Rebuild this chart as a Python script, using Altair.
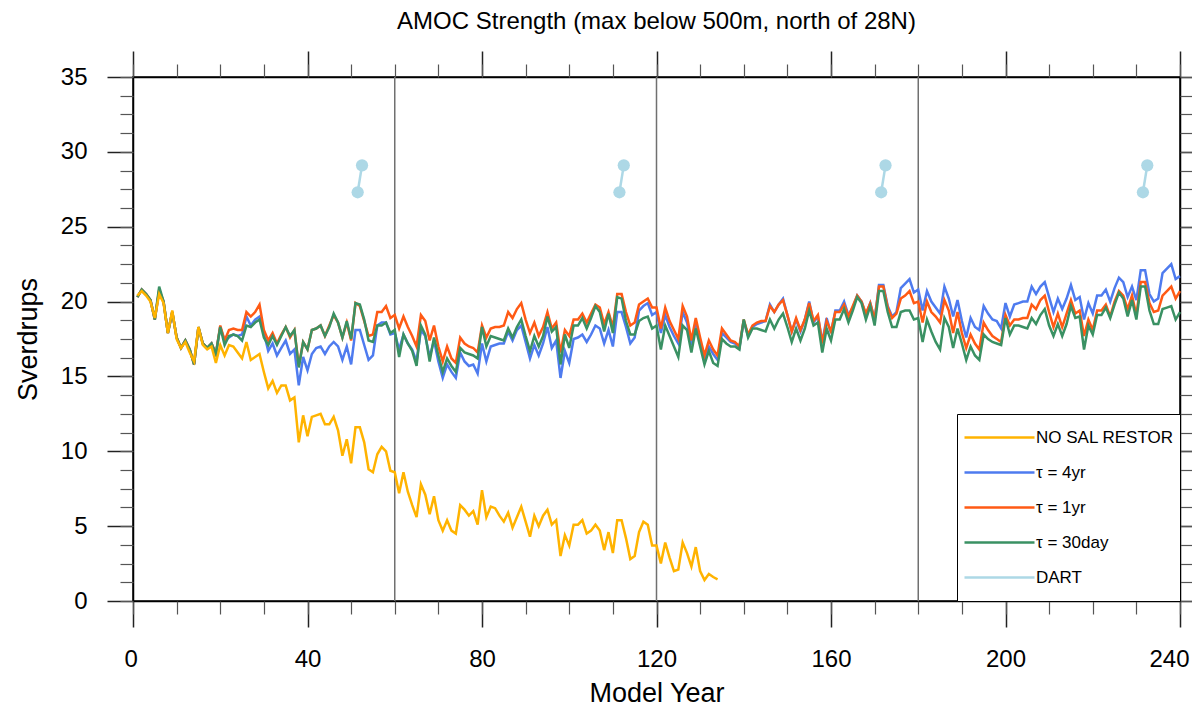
import altair as alt
import pandas as pd

FONT = "Liberation Sans"

# ---------------- data ----------------
years = list(range(1, 241))

tau_4yr = [
    20.3, 20.8, 20.5, 20.1, 18.8, 20.7, 20.0, 17.9, 19.3, 17.6,
    16.9, 17.4, 16.8, 15.8, 18.3, 17.2, 16.9, 17.2, 16.5, 18.3,
    17.4, 17.6, 17.8, 17.7, 17.8, 19.0, 18.4, 18.8, 19.0, 17.9,
    16.7, 17.2, 16.4, 16.9, 17.4, 16.5, 16.8, 14.4, 16.3, 15.4,
    16.5, 16.9, 17.0, 16.5, 17.0, 17.3, 17.0, 16.1, 17.0, 15.8,
    18.1, 18.1, 17.1, 16.1, 16.4, 18.4, 18.6, 18.6, 17.8, 17.9,
    16.8, 17.8, 17.2, 16.8, 16.0, 18.1, 17.7, 16.3, 17.4, 16.0,
    14.9, 15.8, 15.3, 14.9, 16.6, 16.0, 15.7, 15.8, 15.2, 17.2,
    16.0, 17.0, 17.1, 17.2, 17.2, 18.0, 17.4, 18.1, 18.4, 17.3,
    16.2, 17.1, 16.4, 17.2, 18.3, 16.9, 17.4, 14.9, 16.7, 15.9,
    17.5, 17.6, 17.8, 17.3, 17.8, 18.4, 18.2, 17.2, 18.1, 17.0,
    19.3, 19.3, 18.3, 17.2, 17.6, 19.4, 19.7, 19.9, 19.1, 19.3,
    17.9, 19.1, 18.3, 17.7, 17.2, 19.3, 18.6, 17.1, 18.5, 17.2,
    16.1, 17.0, 16.5, 16.1, 17.9, 17.6, 17.3, 17.2, 16.9, 18.7,
    17.7, 18.3, 18.5, 18.6, 18.7, 19.8, 19.3, 19.8, 20.2, 19.1,
    18.0, 18.8, 18.0, 18.8, 20.0, 18.6, 19.0, 17.3, 18.9, 17.9,
    19.4, 19.4, 20.0, 19.1, 19.6, 20.4, 20.0, 19.1, 19.9, 18.8,
    21.1, 21.1, 19.7, 19.0, 19.3, 20.9, 21.2, 21.5, 20.6, 20.8,
    19.4, 20.7, 20.0, 19.6, 19.2, 21.0, 20.2, 19.0, 20.1, 18.7,
    17.6, 18.9, 18.3, 18.1, 19.7, 19.2, 18.8, 18.7, 18.2, 19.9,
    19.0, 19.8, 19.9, 20.0, 20.0, 21.0, 20.5, 21.0, 21.3, 20.3,
    19.3, 20.2, 19.5, 20.2, 21.1, 20.1, 20.3, 18.8, 19.9, 19.2,
    20.4, 20.4, 20.8, 20.0, 20.9, 21.6, 21.3, 20.3, 21.0, 20.1,
    22.1, 22.1, 20.5, 20.0, 20.2, 21.9, 22.2, 22.5, 21.5, 21.7,
]

tau_1yr = [
    20.3, 20.8, 20.5, 20.1, 18.8, 20.8, 20.0, 17.9, 19.3, 17.6,
    16.9, 17.4, 16.8, 15.8, 18.3, 17.2, 16.9, 17.2, 16.5, 18.4,
    17.4, 18.1, 18.2, 18.1, 18.1, 19.3, 19.0, 19.3, 19.8, 18.1,
    17.4, 17.9, 17.2, 17.8, 18.3, 17.6, 18.1, 15.7, 17.3, 16.8,
    18.1, 18.2, 18.4, 17.7, 18.4, 19.1, 18.6, 17.6, 18.6, 17.4,
    19.9, 19.7, 18.7, 17.7, 17.8, 19.3, 19.3, 19.7, 18.9, 19.1,
    18.2, 19.0, 18.3, 17.7, 17.0, 19.1, 18.7, 17.4, 18.4, 17.0,
    16.0, 17.0, 16.2, 15.9, 17.6, 17.2, 17.0, 16.9, 16.6, 18.4,
    17.6, 18.2, 18.3, 18.3, 18.4, 19.3, 18.9, 19.5, 19.9, 18.8,
    17.9, 18.6, 17.7, 18.3, 19.3, 18.2, 18.6, 16.6, 18.1, 17.7,
    18.8, 18.8, 19.2, 18.6, 19.2, 19.8, 19.6, 18.5, 19.3, 18.3,
    20.5, 20.5, 19.3, 18.4, 18.6, 19.8, 20.0, 20.2, 19.6, 19.6,
    18.2, 19.6, 18.7, 18.1, 17.5, 19.7, 19.0, 17.4, 18.9, 17.6,
    16.4, 17.4, 16.8, 16.4, 18.2, 17.8, 17.4, 17.3, 17.0, 18.8,
    17.8, 18.4, 18.6, 18.7, 18.7, 19.7, 19.3, 19.8, 20.1, 19.1,
    18.0, 18.9, 18.1, 18.8, 19.9, 18.7, 19.1, 17.2, 18.7, 18.0,
    19.3, 19.3, 19.8, 19.0, 19.7, 20.4, 20.0, 19.2, 19.9, 18.8,
    21.0, 21.0, 19.6, 18.9, 19.2, 20.2, 20.4, 20.7, 19.9, 20.0,
    18.6, 20.0, 19.3, 19.0, 18.6, 20.1, 19.4, 17.9, 19.3, 17.9,
    16.9, 17.8, 17.2, 16.8, 18.6, 18.1, 17.7, 17.5, 17.3, 19.1,
    18.4, 18.8, 18.8, 18.9, 18.9, 19.8, 19.5, 20.1, 20.4, 19.3,
    18.3, 19.2, 18.3, 19.2, 20.1, 19.2, 19.4, 17.7, 18.8, 18.1,
    19.4, 19.4, 19.8, 19.0, 20.0, 20.7, 20.4, 19.5, 20.4, 19.1,
    21.3, 21.3, 19.9, 19.3, 19.4, 20.4, 20.7, 21.0, 20.2, 20.7,
]

tau_30day = [
    20.3, 20.8, 20.5, 20.1, 18.8, 21.0, 20.0, 17.9, 19.3, 17.6,
    16.9, 17.4, 16.8, 15.8, 18.3, 17.2, 16.9, 17.2, 16.5, 18.3,
    17.1, 17.7, 17.8, 17.7, 17.4, 18.4, 18.3, 18.6, 18.8, 17.6,
    17.1, 17.7, 17.1, 17.7, 18.3, 17.7, 18.1, 15.6, 17.3, 16.8,
    18.1, 18.2, 18.4, 17.7, 18.3, 19.2, 18.6, 17.6, 18.7, 17.5,
    19.9, 19.8, 18.8, 17.4, 17.3, 18.4, 18.4, 18.6, 17.9, 18.1,
    16.3, 17.8, 17.2, 16.7, 15.7, 18.4, 17.8, 16.0, 17.6, 16.4,
    15.3, 16.2, 15.7, 15.3, 16.9, 16.6, 16.5, 16.4, 16.2, 18.3,
    17.0, 17.7, 17.6, 17.5, 17.4, 18.2, 17.6, 18.3, 18.8, 17.7,
    16.7, 17.7, 17.0, 17.7, 19.0, 18.0, 18.3, 15.8, 17.8, 16.9,
    18.4, 18.4, 18.9, 18.2, 18.9, 19.7, 19.3, 18.0, 19.2, 17.9,
    20.3, 20.2, 18.7, 17.8, 17.8, 18.7, 18.9, 19.0, 18.2, 18.4,
    16.8, 18.4, 17.7, 17.0, 16.3, 18.4, 18.1, 16.6, 18.2, 17.0,
    15.8, 16.7, 15.9, 15.7, 17.5, 17.2, 17.0, 17.0, 16.8, 18.8,
    17.6, 18.2, 18.2, 18.1, 18.0, 18.8, 18.2, 18.8, 19.2, 18.3,
    17.3, 18.2, 17.4, 18.2, 19.4, 18.4, 18.6, 16.6, 18.2, 17.4,
    18.8, 18.8, 19.5, 18.6, 19.4, 20.3, 19.9, 18.8, 19.7, 18.4,
    20.7, 20.7, 19.3, 18.3, 18.3, 19.3, 19.4, 19.4, 18.8, 18.9,
    17.3, 18.8, 18.0, 17.3, 16.8, 18.9, 18.3, 16.9, 18.2, 17.2,
    16.1, 17.0, 16.4, 16.1, 17.8, 17.5, 17.3, 17.2, 17.1, 18.9,
    17.8, 18.4, 18.4, 18.3, 18.2, 18.9, 18.5, 19.1, 19.5, 18.4,
    17.7, 18.5, 17.7, 18.5, 19.7, 18.9, 19.0, 16.8, 18.4, 17.8,
    19.1, 19.1, 19.6, 18.9, 19.8, 20.6, 20.2, 19.0, 20.1, 18.8,
    21.0, 21.0, 19.4, 18.5, 18.5, 19.5, 19.6, 19.7, 18.8, 19.3,
]

no_sal_years = list(range(1, 135))
no_sal_restor = [
    20.4, 20.7, 20.4, 20.0, 18.9, 20.5, 19.9, 17.9, 19.4, 17.5,
    16.9, 17.3, 16.6, 16.0, 18.3, 17.1, 16.8, 17.0, 15.9, 17.1,
    16.4, 17.1, 17.0, 16.6, 16.2, 17.3, 16.1, 16.3, 16.5, 15.3,
    14.2, 14.7, 13.9, 14.4, 14.4, 13.4, 13.6, 10.6, 12.4, 11.0,
    12.3, 12.4, 12.5, 11.8, 11.8, 12.3, 11.4, 9.7, 10.8, 9.2,
    11.6, 11.6, 10.6, 8.8, 8.6, 9.8, 10.3, 10.0, 8.7, 8.6,
    7.2, 8.6, 7.3, 6.4, 5.6, 7.8, 7.1, 5.8, 7.0, 5.4,
    4.7, 5.4, 4.7, 4.5, 6.4, 6.1, 5.7, 6.0, 5.1, 7.4,
    5.6, 6.3, 6.2, 5.7, 5.3, 5.9, 4.9, 5.6, 6.3, 5.3,
    4.3, 5.7, 5.0, 5.7, 6.1, 5.1, 5.4, 3.0, 4.4, 3.7,
    5.1, 5.1, 5.4, 4.5, 4.7, 5.1, 4.7, 3.4, 4.6, 3.2,
    5.4, 5.4, 4.2, 2.8, 3.0, 4.6, 5.3, 5.1, 3.7, 3.7,
    2.5, 3.9, 2.9, 2.0, 2.1, 3.9, 3.2, 2.3, 3.6, 2.0,
    1.4, 1.8, 1.6, 1.45,
]

dart_years = [51.5, 52.5, 111.5, 112.5, 171.5, 172.5, 231.5, 232.5]
dart_values = [27.3, 29.1, 27.3, 29.1, 27.3, 29.1, 27.3, 29.1]
dart_pair = [1, 1, 2, 2, 3, 3, 4, 4]

divider_years = [60, 120, 180]

series_names = ["NO SAL RESTOR", "τ = 4yr", "τ = 1yr", "τ = 30day", "DART"]
series_colors = ["#ffb300", "#4e7bef", "#ff5a14", "#3a9163", "#add8e6"]

x_major = [0, 40, 80, 120, 160, 200, 240]
x_minor = list(range(0, 241, 10))
y_major = [0, 5, 10, 15, 20, 25, 30, 35]
y_minor = [i * 1.25 for i in range(29)]

# ---------------- tables ----------------
runs = pd.concat([
    pd.DataFrame({"year": years, "value": tau_4yr, "series": "τ = 4yr"}),
    pd.DataFrame({"year": years, "value": tau_1yr, "series": "τ = 1yr"}),
    pd.DataFrame({"year": years, "value": tau_30day, "series": "τ = 30day"}),
    pd.DataFrame({"year": no_sal_years, "value": no_sal_restor, "series": "NO SAL RESTOR"}),
], ignore_index=True)
dart = pd.DataFrame({"year": dart_years, "value": dart_values, "pair": dart_pair, "series": "DART"})
dividers = pd.DataFrame({"year": divider_years})

xs = alt.Scale(domain=[0, 240], nice=False, zero=False)
ys = alt.Scale(domain=[0, 35], nice=False, zero=False)
cs = alt.Scale(domain=series_names, range=series_colors)

legend = alt.Legend(
    orient="bottom-right", offset=0, symbolType="stroke", symbolSize=4900,
    symbolStrokeWidth=2.5, clipHeight=35, rowPadding=0, padding=6,
    labelFontSize=17, labelFont=FONT, labelColor="black", labelOffset=0,
    labelLimit=300, strokeColor="black", fillColor="white",
)


def ax(orient, values, size, labels=False, title=None, domain=False, width=1.5, color="#222222", **kw):
    props = dict(orient=orient, values=values, tickSize=size, tickWidth=width,
                 tickColor=color, labels=labels, domain=domain, grid=False,
                 domainColor="black", domainWidth=1.5, title=title)
    if labels:
        props.update(labelFontSize=24, labelFont=FONT, labelColor="black",
                     labelPadding=20, labelFlush=False, labelOverlap=False)
    if title:
        props.update(titleFontSize=27, titleFont=FONT, titleFontWeight="normal",
                     titleColor="black")
    props.update(kw)
    return alt.Axis(**props)


def axis_layer(xaxis, yaxis):
    return alt.Chart(runs).mark_point(opacity=0, size=1).encode(
        x=alt.X("year:Q", scale=xs, axis=xaxis),
        y=alt.Y("value:Q", scale=ys, axis=yaxis),
    )


layers = []
layers.append(
    alt.Chart(dividers).mark_rule(color="#707070", strokeWidth=1.5).encode(
        x=alt.X("year:Q", scale=xs, axis=None)
    )
)
for name in ["τ = 4yr", "τ = 1yr", "τ = 30day", "NO SAL RESTOR"]:
    layers.append(
        alt.Chart(runs).transform_filter(alt.datum.series == name)
        .mark_line(strokeWidth=2.5)
        .encode(
            x=alt.X("year:Q", scale=xs, axis=None),
            y=alt.Y("value:Q", scale=ys, axis=None),
            color=alt.Color("series:N", scale=cs, legend=legend, title=None),
        )
    )
layers.append(
    alt.Chart(dart).mark_line(strokeWidth=2.5).encode(
        x=alt.X("year:Q", scale=xs, axis=None),
        y=alt.Y("value:Q", scale=ys, axis=None),
        detail="pair:N",
        color=alt.Color("series:N", scale=cs, legend=legend, title=None),
    )
)
layers.append(
    alt.Chart(dart).mark_circle(size=150, opacity=1, color="#add8e6").encode(
        x=alt.X("year:Q", scale=xs, axis=None),
        y=alt.Y("value:Q", scale=ys, axis=None),
    )
)
# axes: major/minor ticks on all four sides
layers.append(axis_layer(
    ax("bottom", x_major, 26, labels=True, title="Model Year", domain=True,
       titlePadding=9, labelFlush=True, labelFlushOffset=9),
    ax("left", y_major, 26, labels=True, title="Sverdrups", domain=True, titlePadding=18),
))
layers.append(axis_layer(
    ax("bottom", x_minor, 13, width=1.2, color="#555555"),
    ax("left", y_minor, 13, width=1.2, color="#555555"),
))
layers.append(axis_layer(
    ax("top", x_major, 26, domain=True),
    ax("right", y_major, 26, domain=True),
))
layers.append(axis_layer(
    ax("top", x_minor, 13, width=1.2, color="#555555"),
    ax("right", y_minor, 13, width=1.2, color="#555555"),
))

chart = (
    alt.layer(*layers)
    .resolve_axis(x="independent", y="independent")
    .properties(
        width=1047,
        height=524,
        title=alt.Title(
            "AMOC Strength (max below 500m, north of 28N)",
            fontSize=24, font=FONT, fontWeight="normal", color="black",
            offset=16, anchor="middle",
        ),
        padding={"left": 125, "top": 69, "right": 12, "bottom": 107},
        autosize=alt.AutoSizeParams(type="none"),
    )
    .configure_view(stroke="black", strokeWidth=1.5)
)

chart.save("out.html", embed_options={"renderer": "svg", "actions": False})
